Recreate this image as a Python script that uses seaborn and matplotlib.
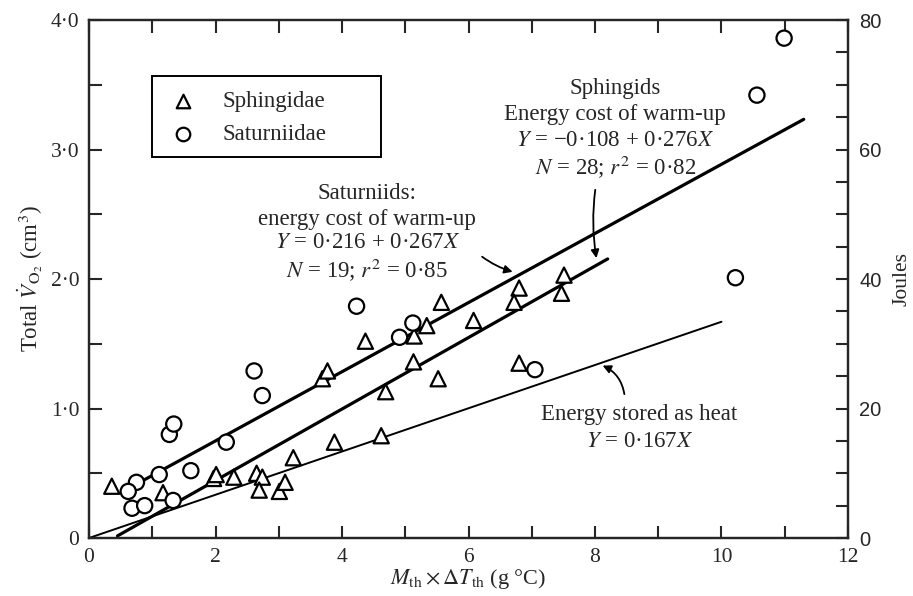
import numpy as np
import pandas as pd
import matplotlib
matplotlib.use("Agg")
import matplotlib.pyplot as plt
from matplotlib.patches import Rectangle
import seaborn as sns

# Sphingidae (triangles), N = 28
sphing_x = [0.36, 1.17, 1.97, 2.01, 2.29, 2.65, 2.74, 2.69, 3.01, 3.10, 3.23, 3.88,
            4.62, 3.69, 3.77, 4.37, 4.69, 5.13, 5.14, 5.34, 5.57, 5.52, 6.08, 6.80,
            6.72, 7.51, 7.47, 6.80]
sphing_y = [0.40, 0.35, 0.46, 0.49, 0.47, 0.50, 0.47, 0.37, 0.36, 0.43, 0.62, 0.74,
            0.79, 1.23, 1.29, 1.52, 1.13, 1.36, 1.56, 1.64, 1.82, 1.23, 1.68, 1.93,
            1.82, 2.03, 1.89, 1.35]

# Saturniidae (circles), N = 19
satur_x = [4.23, 5.12, 4.91, 2.61, 2.74, 1.27, 1.34, 2.17, 1.11, 1.61, 0.75, 0.62,
           0.68, 0.88, 1.33, 10.99, 10.56, 10.22, 7.05]
satur_y = [1.79, 1.66, 1.55, 1.29, 1.10, 0.80, 0.88, 0.74, 0.49, 0.52, 0.43, 0.36,
           0.23, 0.25, 0.29, 3.86, 3.42, 2.01, 1.30]

# regression lines (intercept, slope) and drawn x range
sphing_fit = (-0.108, 0.276)
sphing_range = [0.45, 8.2]
satur_fit = (0.216, 0.267)
satur_range = [0.85, 11.3]
heat_fit = (0.0, 0.167)
heat_range = [0.0, 10.0]

families = ["Sphingidae", "Saturniidae"]
family_markers = {"Sphingidae": "^", "Saturniidae": "o"}

sns.set_style("ticks")
plt.rcParams['font.family'] = ['Liberation Serif', 'DejaVu Serif']
plt.rcParams['mathtext.fontset'] = 'stix'

df = pd.DataFrame({
    "x": sphing_x + satur_x,
    "y": sphing_y + satur_y,
    "family": ["Sphingidae"] * len(sphing_x) + ["Saturniidae"] * len(satur_x),
})

fig = plt.figure(figsize=(9.13, 5.96), dpi=100)
ax = fig.add_axes([0.0975, 0.0973, 0.8313, 0.8691])

for (b0, b1), xr, lw in [(satur_fit, satur_range, 2.3), (sphing_fit, sphing_range, 2.3),
                         (heat_fit, heat_range, 1.4)]:
    xs = np.array(xr)
    sns.lineplot(x=xs, y=b0 + b1 * xs, color="black", lw=lw, ax=ax, zorder=2)

sns.scatterplot(data=df, x="x", y="y", style="family", markers=family_markers,
                color="white", edgecolor="black", linewidth=1.6, s=120,
                legend=False, ax=ax, zorder=3)

ax.set_xlim(0, 12)
ax.set_ylim(0, 4)
ax.set_xticks(np.arange(0, 13, 1))
ax.set_xticklabels([str(v) if v % 2 == 0 else "" for v in range(13)])
ax.set_yticks(np.arange(0, 4.01, 0.5))
ax.set_yticklabels(["0", "", "1·0", "", "2·0", "", "3·0", "", "4·0"])
ax.tick_params(direction="in", top=True, right=False, length=9, width=1.5,
               labelsize=15.5)
ax.tick_params(axis="x", pad=7)
ax.tick_params(axis="y", pad=7)
for sp in ax.spines.values():
    sp.set_linewidth(1.6)

ax.set_xlabel(r"$M_{\mathrm{th}}\times\Delta T_{\mathrm{th}}$ (g °C)", fontsize=16, labelpad=0)
ax.set_ylabel(r"Total $\dot{V}_{\mathrm{O}_2}$ (cm$^3$)", fontsize=16.5, labelpad=4)

ax2 = ax.twinx()
ax2.set_ylim(0, 80)
ax2.set_yticks(np.arange(0, 81, 5))
ax2.set_yticklabels([str(v) if v % 20 == 0 else "" for v in range(0, 81, 5)],
                    family="Liberation Sans")
ax2.tick_params(direction="in", length=9, width=1.5, labelsize=14.5, pad=8)
ax2.set_ylabel("Joules", fontsize=15.5, labelpad=8)
for sp in ax2.spines.values():
    sp.set_linewidth(1.6)

# legend box drawn by hand (axes fraction)
ax.add_patch(Rectangle((0.083, 0.736), 0.302, 0.156, transform=ax.transAxes,
                       fill=False, edgecolor="black", lw=1.4, zorder=4))
for fam, yy in zip(families, [0.843, 0.779]):
    ax.scatter([0.124], [yy], marker=family_markers[fam], s=95, facecolor="white",
               edgecolor="black", linewidth=1.6, transform=ax.transAxes, zorder=5)
    ax.text(0.176, yy, fam, transform=ax.transAxes, ha="left", va="center",
            fontsize=16.5, zorder=5)

fs = 16.5
# Sphingids annotation
for txt, yy in [("Sphingids", 3.475), ("Energy cost of warm-up", 3.27),
                (r"$Y$ = −0·108 + 0·276$X$", 3.07), (r"$N$ = 28; $r^2$ = 0·82", 2.87)]:
    ax.text(8.32, yy, txt, ha="center", va="center", fontsize=fs)
# Saturniids annotation
for txt, yy in [("Saturniids:", 2.66), ("energy cost of warm-up", 2.46),
                (r"$Y$ = 0·216 + 0·267$X$", 2.28), (r"$N$ = 19; $r^2$ = 0·85", 2.07)]:
    ax.text(4.40, yy, txt, ha="center", va="center", fontsize=fs)
# heat annotation
for txt, yy in [("Energy stored as heat", 0.95), (r"$Y$ = 0·167$X$", 0.745)]:
    ax.text(8.70, yy, txt, ha="center", va="center", fontsize=fs)

arrow = dict(arrowstyle="-|>", color="black", lw=1.3, mutation_scale=12)
ax.annotate("", xy=(6.74, 2.05), xytext=(6.18, 2.185),
            arrowprops=dict(connectionstyle="arc3,rad=0.1", **arrow))
ax.annotate("", xy=(8.03, 2.14), xytext=(8.01, 2.71),
            arrowprops=dict(connectionstyle="arc3,rad=0.08", **arrow))
ax.annotate("", xy=(8.08, 1.34), xytext=(8.47, 1.09),
            arrowprops=dict(connectionstyle="arc3,rad=0.3", **arrow))

fig.savefig("out.png", dpi=100)
